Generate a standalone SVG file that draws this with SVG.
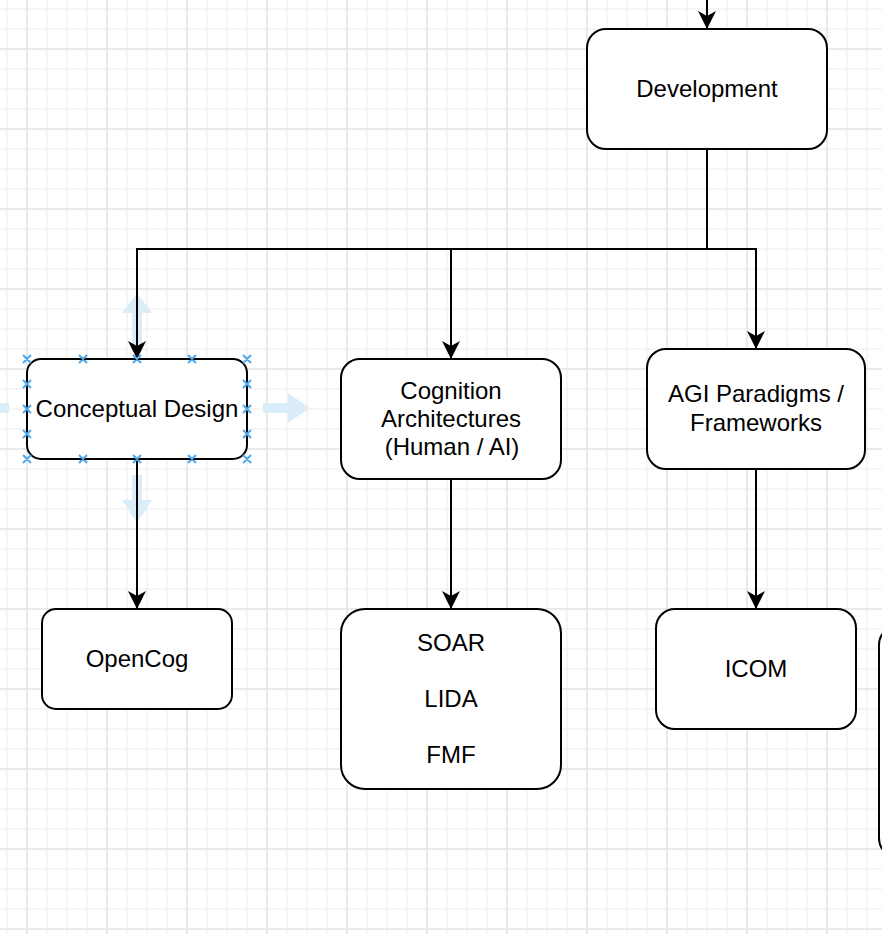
<svg xmlns="http://www.w3.org/2000/svg" width="882" height="934" viewBox="0 0 882 934">
  <style>
    .box { fill: #ffffff; stroke: #000000; stroke-width: 2; }
    .lbl { font-family: "Liberation Sans", Arial, Helvetica, sans-serif; font-size: 24px; fill: #000000; text-anchor: middle; }
    .edge { fill: none; stroke: #000000; stroke-width: 2; }
    .hover { fill: #dcedfa; }
    .handle { stroke: #4fa9ea; stroke-width: 2; fill: none; }
  </style>
  <defs>
    <pattern id="grid" patternUnits="userSpaceOnUse" x="17" y="39" width="80" height="80">
      <path d="M30,0 V80 M50,0 V80 M70,0 V80 M0,30 H80 M0,50 H80 M0,70 H80" stroke="#f2f2f2" stroke-width="1.5" fill="none"/>
      <path d="M10,0 V80 M0,10 H80" stroke="#e3e3e3" stroke-width="1.5" fill="none"/>
    </pattern>
    <marker id="arrow" viewBox="0 0 18 18" refX="18" refY="9" markerWidth="18" markerHeight="18" markerUnits="userSpaceOnUse" orient="auto">
      <path d="M18,9 L0,0 L5,9 L0,18 Z" fill="#000000"/>
    </marker>
  </defs>

  <rect x="0" y="0" width="882" height="934" fill="#ffffff"/>
  <rect x="0" y="0" width="882" height="934" fill="url(#grid)"/>

  <!-- hover arrows around selected node -->
  <g id="hover-arrows">
    <path class="hover" d="M137,293 L152,313 L142,313 L142,352 L132,352 L132,313 L122,313 Z"/>
    <path class="hover" d="M137,523 L152,500 L142,500 L142,475 L132,475 L132,500 L122,500 Z"/>
    <path class="hover" d="M310,408 L288,393 L288,403 L263,403 L263,413 L288,413 L288,423 Z"/>
    <path class="hover" d="M-37,408 L-15,393 L-15,403 L9,403 L9,413 L-15,413 L-15,423 Z"/>
  </g>

  <g id="connectors">
    <path class="edge" d="M707,0 V29" marker-end="url(#arrow)"/>
    <path class="edge" d="M707,149 V249 H137 V359" marker-end="url(#arrow)"/>
    <path class="edge" d="M707,149 V249 H451 V359" marker-end="url(#arrow)"/>
    <path class="edge" d="M707,149 V249 H756 V349" marker-end="url(#arrow)"/>
    <path class="edge" d="M137,459 V609" marker-end="url(#arrow)"/>
    <path class="edge" d="M451,479 V609" marker-end="url(#arrow)"/>
    <path class="edge" d="M756,469 V609" marker-end="url(#arrow)"/>
  </g>

  <g id="development">
    <rect class="box" x="587" y="29" width="240" height="120" rx="19" ry="19"/>
    <text class="lbl" x="707" y="97">Development</text>
  </g>

  <g id="conceptual-design">
    <rect class="box" x="27" y="359" width="220" height="100" rx="14" ry="14"/>
    <text class="lbl" x="137" y="417">Conceptual Design</text>
  </g>

  <g id="cognition-architectures">
    <rect class="box" x="341" y="359" width="220" height="120" rx="19" ry="19"/>
    <text class="lbl" x="451" y="399">Cognition</text>
    <text class="lbl" x="451" y="427">Architectures</text>
    <text class="lbl" x="452" y="455">(Human / AI)</text>
  </g>

  <g id="agi-paradigms">
    <rect class="box" x="647" y="349" width="218" height="120" rx="19" ry="19"/>
    <text class="lbl" x="756" y="402">AGI Paradigms /</text>
    <text class="lbl" x="756" y="431">Frameworks</text>
  </g>

  <g id="opencog">
    <rect class="box" x="42" y="609" width="190" height="100" rx="14" ry="14"/>
    <text class="lbl" x="137" y="667">OpenCog</text>
  </g>

  <g id="soar-lida-fmf">
    <rect class="box" x="341" y="609" width="220" height="180" rx="24" ry="24"/>
    <text class="lbl" x="451" y="651">SOAR</text>
    <text class="lbl" x="451" y="707">LIDA</text>
    <text class="lbl" x="451" y="763">FMF</text>
  </g>

  <g id="icom">
    <rect class="box" x="656" y="609" width="200" height="120" rx="19" ry="19"/>
    <text class="lbl" x="756" y="677">ICOM</text>
  </g>

  <g id="partial-node">
    <rect class="box" x="879" y="625" width="200" height="233" rx="20" ry="20"/>
  </g>

  <g id="selection-handles">
    <path class="handle" d="M23,355 l8,8 m0,-8 l-8,8 M79,355 l8,8 m0,-8 l-8,8 M133,355 l8,8 m0,-8 l-8,8 M188,355 l8,8 m0,-8 l-8,8 M243,355 l8,8 m0,-8 l-8,8"/>
    <path class="handle" d="M23,455 l8,8 m0,-8 l-8,8 M79,455 l8,8 m0,-8 l-8,8 M133,455 l8,8 m0,-8 l-8,8 M188,455 l8,8 m0,-8 l-8,8 M243,455 l8,8 m0,-8 l-8,8"/>
    <path class="handle" d="M23,380 l8,8 m0,-8 l-8,8 M23,405 l8,8 m0,-8 l-8,8 M23,430 l8,8 m0,-8 l-8,8"/>
    <path class="handle" d="M243,380 l8,8 m0,-8 l-8,8 M243,405 l8,8 m0,-8 l-8,8 M243,430 l8,8 m0,-8 l-8,8"/>
  </g>
</svg>
